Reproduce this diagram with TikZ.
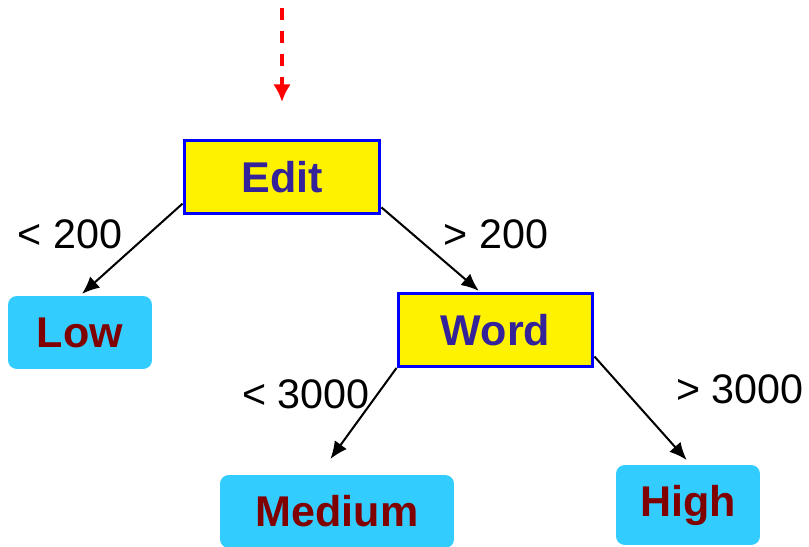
\documentclass[tikz,border=0pt]{standalone}
\usepackage{fontspec}
\setmainfont{Liberation Sans}
\usetikzlibrary{arrows.meta}
\definecolor{testblue}{RGB}{51,34,153}
\definecolor{leafcyan}{RGB}{51,204,255}
\definecolor{leafred}{RGB}{128,0,0}
\tikzset{
  >={Latex[length=10pt,width=8.5pt]},
}
\tikzstyle{every node}=[font=\fontsize{23.5}{28}\selectfont]
\tikzstyle{test}=[draw=blue,line width=1.7pt,fill=yellow,text=testblue,
  font=\fontsize{24.5}{28}\selectfont\bfseries,inner sep=0pt,minimum height=1.46cm]
\tikzstyle{leaf}=[fill=leafcyan,rounded corners=5pt,text=leafred,
  font=\fontsize{24.5}{28}\selectfont\bfseries,inner sep=0pt,minimum height=1.46cm]
\tikzstyle{branch}=[line width=1.15pt,->]
\tikzstyle{feed}=[red,line width=2.2pt,dash pattern=on 7pt off 6pt,
  -{Latex[length=10pt,width=10pt]}]

\begin{document}
\begin{tikzpicture}[x=0.02cm,y=-0.02cm]
  \useasboundingbox (0,0) rectangle (809,547);
  % tests
  \node[test,minimum width=3.92cm] (Edit) at (282,177) {Edit};
  \node[test,minimum width=3.9cm] (Word) at (495.5,330) {Word};
  % leaves
  \node[leaf,minimum width=2.88cm] (Low) at (80,332.5) {Low};
  \node[leaf,minimum width=4.68cm] (Medium) at (337,511.5) {Medium};
  \node[leaf,minimum width=2.88cm,minimum height=1.6cm] (High) at (688,505) {High};
  % incoming
  \coordinate (entry) at (282,8);
  \draw[feed,shorten >=0.74cm] (entry) -- (Edit.north);
  % branches
  \draw[branch,shorten >=1.5pt] (Edit.195) -- (Low.north);
  \draw[branch,shorten >=1pt] (Edit.-17) -- (Word.112);
  \draw[branch,shorten >=11pt] (Word.south west) -- (Medium.116);
  \draw[branch,shorten >=3.5pt] (Word.-15) -- (High.86);
  % conditions
  \node (lt200) at (70,234) {< 200};
  \node (gt200) at (496,234) {> 200};
  \node (lt3000) at (306,394) {< 3000};
  \node (gt3000) at (740,389) {> 3000};
\end{tikzpicture}
\end{document}
